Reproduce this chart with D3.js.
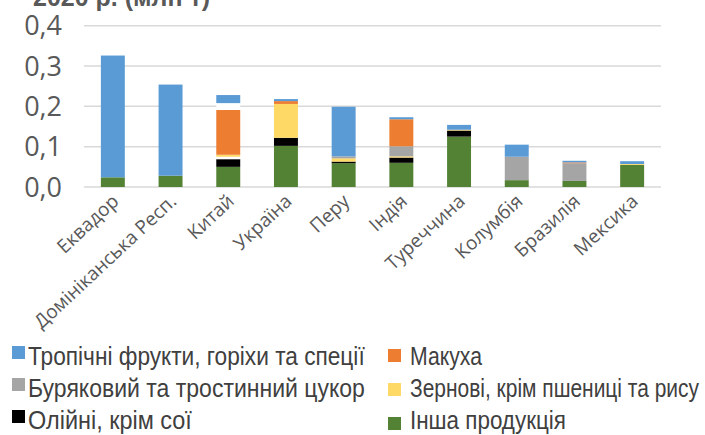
<!DOCTYPE html>
<html>
<head>
<meta charset="utf-8">
<script src="https://cdn.jsdelivr.net/npm/d3@7"></script>
<style>
    body { margin: 0; background: #fff; }
    svg { display: block; }
</style>
</head>
<body>
<div id="chart"></div>
<script>
// countries along the x axis
const countries = ["Еквадор", "Домініканська Респ.", "Китай", "Україна", "Перу",
    "Індія", "Туреччина", "Колумбія", "Бразилія", "Мексика"];

// series values, million tonnes (bottom of the stack first)
const inshaProduktsiia = [0.024, 0.028, 0.050, 0.102, 0.059, 0.060, 0.125, 0.017, 0.015, 0.055];
const oliini           = [0, 0, 0.019, 0.020, 0.004, 0.013, 0.015, 0, 0, 0];
const gapLow           = [0, 0, 0.006, 0, 0, 0, 0, 0, 0, 0];
const zernovi          = [0, 0, 0.005, 0.084, 0.008, 0.003, 0.002, 0, 0, 0.002];
const tsukor           = [0, 0, 0, 0, 0.005, 0.025, 0, 0.058, 0.044, 0];
const makukha          = [0, 0, 0.111, 0.007, 0, 0.067, 0, 0, 0.002, 0];
const gapHigh          = [0, 0, 0.017, 0, 0, 0, 0, 0, 0, 0];
const tropichni        = [0.302, 0.226, 0.020, 0.005, 0.123, 0.005, 0.012, 0.030, 0.004, 0.007];

const yTicks = [0, 0.1, 0.2, 0.3, 0.4];
const yTickLabels = ["0,0", "0,1", "0,2", "0,3", "0,4"];

// stack order, with names for the legend ("" = no legend entry)
const series = [
    {key: "insha", name: "Інша продукція", values: inshaProduktsiia, color: "#548235"},
    {key: "oliini", name: "Олійні, крім сої", values: oliini, color: "#000000"},
    {key: "gapLow", name: "", values: gapLow, color: "#ffffff"},
    {key: "zernovi", name: "Зернові, крім пшениці та рису", values: zernovi, color: "#ffd966"},
    {key: "tsukor", name: "Буряковий та тростинний цукор", values: tsukor, color: "#a5a5a5"},
    {key: "makukha", name: "Макуха", values: makukha, color: "#ed7d31"},
    {key: "gapHigh", name: "", values: gapHigh, color: "#ffffff"},
    {key: "tropichni", name: "Тропічні фрукти, горіхи та спеції", values: tropichni, color: "#5b9bd5"}
];

// legend layout: which series goes in which slot (len = text width, narrow font)
const legendSlots = [
    {key: "tropichni", x: 12, y: 346, tx: 28, ty: 365, len: 337},
    {key: "makukha", x: 388, y: 349, tx: 410, ty: 365, len: 72},
    {key: "tsukor", x: 12, y: 378, tx: 28, ty: 397, len: 337},
    {key: "zernovi", x: 388, y: 383, tx: 410, ty: 397, len: 289},
    {key: "oliini", x: 12, y: 410, tx: 28, ty: 429, len: 164},
    {key: "insha", x: 388, y: 417, tx: 410, ty: 429, len: 156}
];

const width = 705, height = 435;
const plotLeft = 84, plotRight = 661, plotTop = 25.7, plotBottom = 187;

let svg = d3.select("#chart")
    .append("svg")
    .attr("width", width)
    .attr("height", height);

let x = d3.scaleBand()
    .domain(countries)
    .range([plotLeft, plotRight])
    .paddingInner(0.585)
    .paddingOuter(0.2925);

let y = d3.scaleLinear()
    .domain([0, 0.4])
    .range([plotBottom, plotTop]);

// title, mostly cut off at the top edge
svg.append("text")
    .attr("x", 33)
    .attr("y", 6)
    .style("font-family", "'Liberation Sans', Arial, sans-serif")
    .style("font-weight", "bold")
    .style("font-size", "25px")
    .style("fill", "#595959")
    .text("2020 р. (млн т)");

// gridlines
svg.selectAll("line.grid")
    .data(yTicks)
    .enter()
    .append("line")
    .attr("class", "grid")
    .attr("x1", plotLeft)
    .attr("x2", plotRight)
    .attr("y1", (d) => y(d))
    .attr("y2", (d) => y(d))
    .style("stroke", "#d9d9d9")
    .style("stroke-width", 1.5);

// y tick labels
svg.selectAll("text.ytick")
    .data(yTicks)
    .enter()
    .append("text")
    .attr("class", "ytick")
    .attr("x", 62)
    .attr("y", (d) => y(d))
    .attr("dy", "0.36em")
    .attr("text-anchor", "end")
    .style("font-family", "'Open Sans', sans-serif")
    .style("font-size", "27px")
    .style("fill", "#595959")
    .text((d, i) => yTickLabels[i]);

// stacked bars
let rows = countries.map((c, i) => {
    let r = {country: c};
    series.forEach((s) => { r[s.key] = s.values[i]; });
    return r;
});
let stacked = d3.stack().keys(series.map((s) => s.key))(rows);

let layers = svg.selectAll("g.layer")
    .data(stacked)
    .enter()
    .append("g")
    .attr("class", "layer")
    .style("fill", (d, i) => series[i].color);

layers.selectAll("rect")
    .data((d) => d)
    .enter()
    .append("rect")
    .attr("x", (d) => x(d.data.country))
    .attr("width", x.bandwidth())
    .attr("y", (d) => y(d[1]))
    .attr("height", (d) => y(d[0]) - y(d[1]));

// x labels, rotated
svg.selectAll("text.xlab")
    .data(countries)
    .enter()
    .append("text")
    .attr("class", "xlab")
    .attr("transform", (d) => "translate(" + (x(d) + x.bandwidth() / 2 - 2) + "," + 193 + ") rotate(-43)")
    .attr("dy", "0.7em")
    .attr("text-anchor", "end")
    .style("font-family", "'Open Sans', sans-serif")
    .style("font-size", "19px")
    .style("fill", "#595959")
    .text((d) => d);

// legend
let legend = svg.selectAll("g.legend")
    .data(legendSlots)
    .enter()
    .append("g")
    .attr("class", "legend");

legend.append("rect")
    .attr("x", (d) => d.x)
    .attr("y", (d) => d.y)
    .attr("width", 13)
    .attr("height", 13)
    .style("fill", (d) => series.find((s) => s.key == d.key).color);

// narrow look: squeeze each label horizontally to the width it has in the original
legend.append("text")
    .style("font-family", "'Liberation Sans', Arial, sans-serif")
    .style("font-size", "26px")
    .style("fill", "#404040")
    .text((d) => series.find((s) => s.key == d.key).name)
    .attr("transform", function(d) {
        let w = this.getComputedTextLength();
        return "translate(" + d.tx + "," + d.ty + ") scale(" + (d.len / w) + ",1)";
    });
</script>
</body>
</html>
